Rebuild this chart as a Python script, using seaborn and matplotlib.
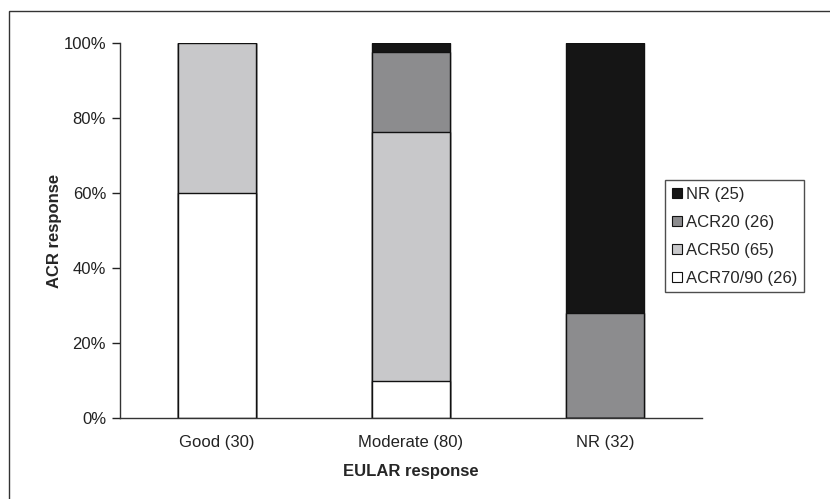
import numpy as np
import pandas as pd
import matplotlib
matplotlib.use("Agg")
import matplotlib.pyplot as plt
from matplotlib.patches import Patch, Rectangle
from matplotlib.ticker import PercentFormatter
import seaborn as sns

# data (percent of each EULAR group)
categories = ["Good (30)", "Moderate (80)", "NR (32)"]
acr7090 = [60.0, 10.0, 0.0]
acr50 = [40.0, 66.25, 0.0]
acr20 = [0.0, 21.25, 28.1]
nr = [0.0, 2.5, 71.9]
layer_names = ["ACR70/90 (26)", "ACR50 (65)", "ACR20 (26)", "NR (25)"]
layer_colors = ["#ffffff", "#c8c8ca", "#8c8c8e", "#151515"]

sns.set_style("white")
plt.rcParams["font.family"] = ["Liberation Sans", "DejaVu Sans"]

df = pd.DataFrame({"cat": categories, "ACR70/90 (26)": acr7090,
                   "ACR50 (65)": acr50, "ACR20 (26)": acr20, "NR (25)": nr})
cum = df[layer_names].cumsum(axis=1)

fig = plt.figure(figsize=(8.3, 4.99), dpi=100)
ax = fig.add_axes([120 / 830, 1 - 418 / 499, 582 / 830, 375 / 499])

# draw cumulative bars from the top layer down so they stack
for name, col in reversed(list(zip(layer_names, layer_colors))):
    sns.barplot(x=df["cat"], y=cum[name], color=col, width=0.4,
                edgecolor="#111111", linewidth=1.0, ax=ax, saturation=1)

ax.set_xlim(-0.5, 2.5)
ax.set_ylim(0, 100)
ax.set_yticks([0, 20, 40, 60, 80, 100])
ax.yaxis.set_major_formatter(PercentFormatter(decimals=0))
ax.set_xticks([0, 1, 2])
ax.set_xticklabels(categories)
ax.set_xticks([-0.5, 0.5, 1.5, 2.5], minor=True)
ax.tick_params(axis="x", which="major", length=0, pad=12.5, labelsize=12, colors="#222222")
ax.tick_params(axis="x", which="minor", length=6, width=1, direction="out", color="#333333")
ax.tick_params(axis="y", length=6, width=1, direction="out", pad=4, labelsize=12,
               colors="#222222", left=True)

sns.despine(ax=ax)
for s in ["left", "bottom"]:
    ax.spines[s].set_color("#333333")
    ax.spines[s].set_linewidth(1.0)

ax.set_xlabel("EULAR response", fontsize=12, fontweight="bold", labelpad=10)
ax.set_ylabel("ACR response", fontsize=12, fontweight="bold", labelpad=1)

handles = [Patch(facecolor=c, edgecolor="#111111", linewidth=0.8, label=n)
           for n, c in zip(layer_names, layer_colors)][::-1]
leg = fig.legend(handles=handles, loc="upper left", bbox_to_anchor=(665 / 830, 1 - 180 / 499),
                 frameon=True, fancybox=False, edgecolor="#222222", fontsize=12,
                 handlelength=0.6, handleheight=0.6, handletextpad=0.25,
                 labelspacing=0.78, borderpad=0.4, borderaxespad=0)
leg.get_frame().set_linewidth(1.0)

# outer frame around the figure
fig.patches.append(Rectangle((9 / 830, -0.1), 1.2, 1 - 11 / 499 + 0.1,
                             transform=fig.transFigure, fill=False,
                             edgecolor="#333333", linewidth=1.0))

fig.savefig("out.png", dpi=100)
